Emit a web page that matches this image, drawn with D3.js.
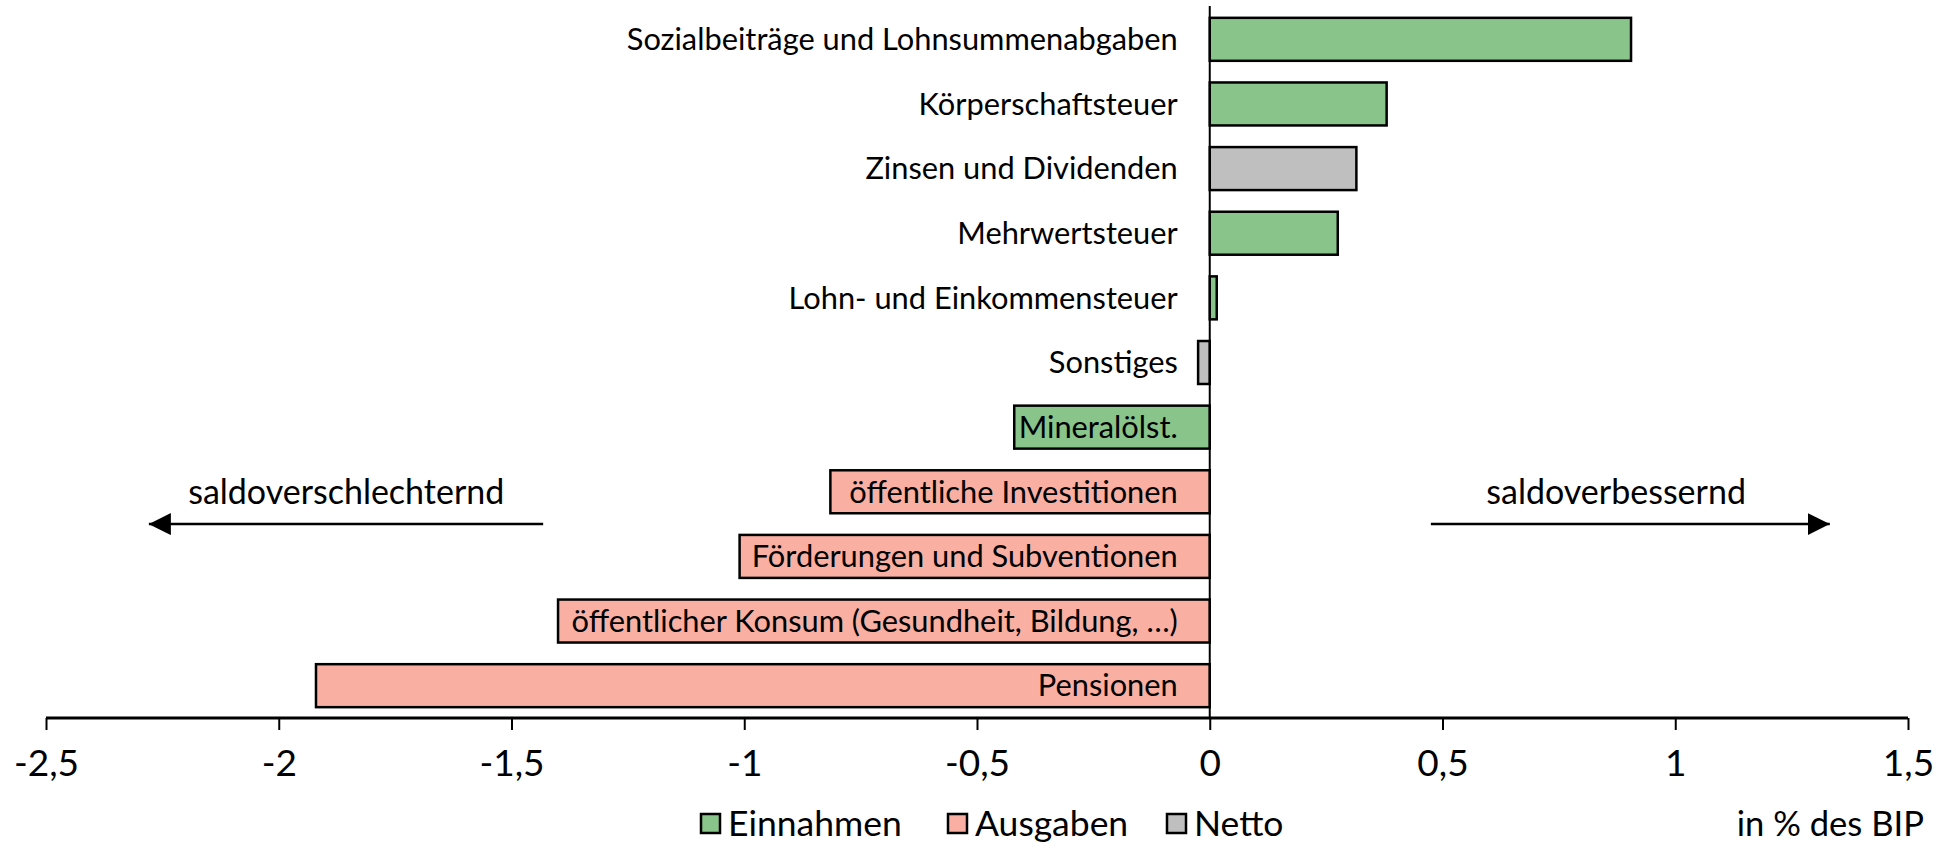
<!DOCTYPE html>
<html>
<head>
<meta charset="utf-8">
<script src="https://cdn.jsdelivr.net/npm/d3@7"></script>
<style>
  body { margin: 0; background: #fff; }
  text { font-family: Lato, "Open Sans", sans-serif; fill: #000; }
</style>
</head>
<body>
<div id="chart"></div>
<script>
// data (in % des BIP)
var categories = [
    "Sozialbeiträge und Lohnsummenabgaben",
    "Körperschaftsteuer",
    "Zinsen und Dividenden",
    "Mehrwertsteuer",
    "Lohn- und Einkommensteuer",
    "Sonstiges",
    "Mineralölst.",
    "öffentliche Investitionen",
    "Förderungen und Subventionen",
    "öffentlicher Konsum (Gesundheit, Bildung, …)",
    "Pensionen"
];
var values = [0.905, 0.38, 0.315, 0.275, 0.015, -0.025, -0.42, -0.815, -1.01, -1.40, -1.92];
var kinds = ["Einnahmen", "Einnahmen", "Netto", "Einnahmen", "Einnahmen", "Netto",
             "Einnahmen", "Ausgaben", "Ausgaben", "Ausgaben", "Ausgaben"];
var legendKeys = ["Einnahmen", "Ausgaben", "Netto"];
var tickValues = [-2.5, -2, -1.5, -1, -0.5, 0, 0.5, 1, 1.5];

// set the dimensions
var width = 1947,
    height = 844;

var colour = d3.scaleOrdinal()
    .domain(legendKeys)
    .range(["#89c48b", "#f9afa2", "#bfbfbf"]);

// set the ranges
var x = d3.scaleLinear()
    .domain([-2.5, 1.5])
    .range([46, 1908]);
var y = d3.scaleBand()
    .domain(categories)
    .range([7, 718])
    .paddingInner(0.335)
    .paddingOuter(0.1675);

var svg = d3.select("#chart").append("svg")
    .attr("width", width)
    .attr("height", height);

var data = categories.map(function(c, i) {
    return {name: c, value: values[i], kind: kinds[i]};
});

// bars
svg.selectAll(".bar")
    .data(data)
    .enter().append("rect")
    .attr("class", "bar")
    .attr("x", function(d) { return x(Math.min(0, d.value)); })
    .attr("y", function(d) { return y(d.name); })
    .attr("width", function(d) { return Math.abs(x(d.value) - x(0)); })
    .attr("height", y.bandwidth())
    .style("fill", function(d) { return colour(d.kind); })
    .style("stroke", "#000")
    .style("stroke-width", 2.5);

// zero line
svg.append("line")
    .attr("x1", x(0)).attr("x2", x(0))
    .attr("y1", 6).attr("y2", 718)
    .style("stroke", "#000")
    .style("stroke-width", 2);

// category labels, right aligned just left of the zero line
svg.selectAll(".cat")
    .data(data)
    .enter().append("text")
    .attr("class", "cat")
    .attr("x", x(0) - 32)
    .attr("y", function(d) { return y(d.name) + y.bandwidth() / 2; })
    .attr("dy", "0.35em")
    .attr("text-anchor", "end")
    .style("font-size", "30.8px")
    .text(function(d) { return d.name; });

// x axis
var xAxis = svg.append("g")
    .attr("transform", "translate(0,718)")
    .call(d3.axisBottom(x)
        .tickValues(tickValues)
        .tickSize(12)
        .tickPadding(20)
        .tickFormat(function(d) { return String(d).replace(".", ","); }));
xAxis.select(".domain").style("stroke-width", 3).attr("d", "M" + x(-2.5) + ",0H" + x(1.5));
xAxis.selectAll(".tick line").style("stroke-width", 2);
xAxis.selectAll(".tick text")
    .style("font-family", "Lato, sans-serif")
    .style("font-size", "37px");

// direction arrows
svg.append("defs").append("marker")
    .attr("id", "arrow")
    .attr("viewBox", "0 0 10 10")
    .attr("refX", 10).attr("refY", 5)
    .attr("markerWidth", 22).attr("markerHeight", 22)
    .attr("markerUnits", "userSpaceOnUse")
    .attr("orient", "auto")
    .append("path")
    .attr("d", "M0,0L10,5L0,10Z")
    .style("fill", "#000");

var arrowY = y(categories[8]) - (y.step() - y.bandwidth()) / 2;
var textY = y(categories[7]) + y.bandwidth() / 2;

svg.append("line")
    .attr("x1", x(-1.432)).attr("x2", x(-2.279))
    .attr("y1", arrowY).attr("y2", arrowY)
    .style("stroke", "#000").style("stroke-width", 2.5)
    .attr("marker-end", "url(#arrow)");
svg.append("line")
    .attr("x1", x(0.475)).attr("x2", x(1.332))
    .attr("y1", arrowY).attr("y2", arrowY)
    .style("stroke", "#000").style("stroke-width", 2.5)
    .attr("marker-end", "url(#arrow)");

svg.append("text")
    .attr("x", x(-1.855)).attr("y", textY)
    .attr("dy", "0.35em")
    .attr("text-anchor", "middle")
    .style("font-size", "34px")
    .text("saldoverschlechternd");
svg.append("text")
    .attr("x", x(0.873)).attr("y", textY)
    .attr("dy", "0.35em")
    .attr("text-anchor", "middle")
    .style("font-size", "34px")
    .text("saldoverbessernd");

// legend
var legendX = [701, 948, 1167];
var legend = svg.selectAll(".legend")
    .data(legendKeys)
    .enter().append("g")
    .attr("class", "legend")
    .attr("transform", function(d, i) { return "translate(" + legendX[i] + ",814)"; });
legend.append("rect")
    .attr("width", 19).attr("height", 19)
    .style("fill", function(d) { return colour(d); })
    .style("stroke", "#000")
    .style("stroke-width", 2.5);
legend.append("text")
    .attr("x", 27).attr("y", 10)
    .attr("dy", "0.35em")
    .style("font-size", "35.5px")
    .text(function(d) { return d; });

// unit label
svg.append("text")
    .attr("x", 1924).attr("y", 824)
    .attr("dy", "0.35em")
    .attr("text-anchor", "end")
    .style("font-size", "34.6px")
    .text("in % des BIP");
</script>
</body>
</html>
